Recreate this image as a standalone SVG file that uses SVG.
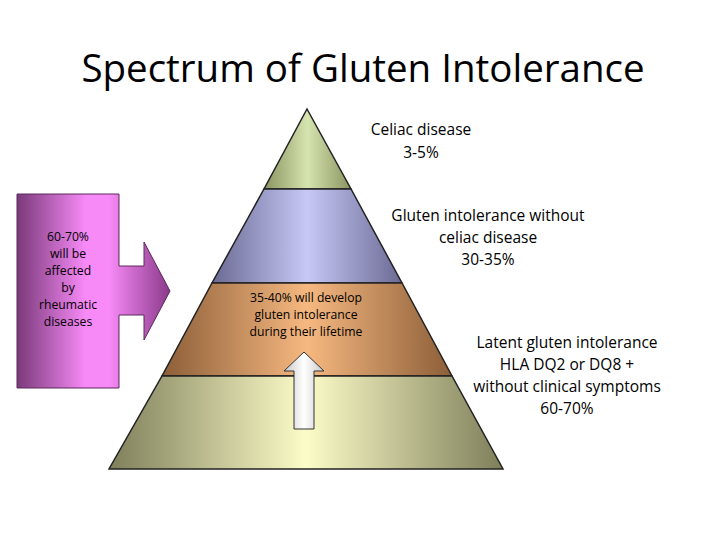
<svg xmlns="http://www.w3.org/2000/svg" width="728" height="546" viewBox="0 0 728 546">
<defs>
<linearGradient id="g1" x1="0" x2="1"><stop offset="0" stop-color="#8a9460"/><stop offset="0.5" stop-color="#d6e4b0"/><stop offset="1" stop-color="#8a9460"/></linearGradient>
<linearGradient id="g2" x1="0" x2="1"><stop offset="0" stop-color="#6a6a94"/><stop offset="0.5" stop-color="#c8c8f6"/><stop offset="1" stop-color="#6a6a94"/></linearGradient>
<linearGradient id="g3" x1="0" x2="1"><stop offset="0" stop-color="#8c5e38"/><stop offset="0.5" stop-color="#f6b880"/><stop offset="1" stop-color="#8c5e38"/></linearGradient>
<linearGradient id="g4" x1="0" x2="1"><stop offset="0" stop-color="#7e7e5a"/><stop offset="0.5" stop-color="#fcfcc8"/><stop offset="1" stop-color="#7e7e5a"/></linearGradient>
<linearGradient id="gp" x1="0" x2="1"><stop offset="0" stop-color="#7a3a7a"/><stop offset="0.45" stop-color="#f88af8"/><stop offset="0.6" stop-color="#f88af8"/><stop offset="1" stop-color="#8a3a8a"/></linearGradient>
<linearGradient id="gw" x1="0" x2="1"><stop offset="0" stop-color="#c8c8c8"/><stop offset="0.5" stop-color="#ffffff"/><stop offset="1" stop-color="#c8c8c8"/></linearGradient>
</defs>
<style>
.ly{stroke:#222;stroke-width:1.5}
.t{font-family:"Open Sans","Liberation Sans",sans-serif;fill:#000;text-anchor:middle}
.m{font-size:15.5px}.s{font-size:12.2px}
</style>
<rect width="728" height="546" fill="#fff"/>
<text x="363" y="82" class="t" style="font-size:38.5px">Spectrum of Gluten Intolerance</text>
<g id="pyramid">
<polygon id="layer1" class="ly" fill="url(#g1)" points="307,109 351,189 264,189"/>
<polygon id="layer2" class="ly" fill="url(#g2)" points="264,189 351,189 402,283 212,283"/>
<polygon id="layer3" class="ly" fill="url(#g3)" points="212,283 402,283 452,376 162,376"/>
<polygon id="layer4" class="ly" fill="url(#g4)" points="162,376 452,376 503,469 109,469"/>
</g>
<g id="inner-text" class="t s">
<text x="306" y="302">35-40% will develop</text>
<text x="306" y="319">gluten intolerance</text>
<text x="306" y="336">during their lifetime</text>
</g>
<g id="connectors">
<polygon id="up-arrow" fill="url(#gw)" stroke="#333" stroke-width="1" points="304,352 324,371 314,371 314,429 294,429 294,371 284,371"/>
<polygon id="pink-arrow" fill="url(#gp)" stroke="#5a2a5a" stroke-width="1" points="17,194 119,194 119,266 144,266 144,242 170,291 144,340 144,315 119,315 119,388 17,388"/>
</g>
<g id="pink-text" class="t s">
<text x="68" y="241">60-70%</text>
<text x="68" y="258">will be</text>
<text x="68" y="275">affected</text>
<text x="68" y="292">by</text>
<text x="68" y="309">rheumatic</text>
<text x="68" y="326">diseases</text>
</g>
<g id="label1" class="t m"><text x="421" y="135">Celiac disease</text><text x="421" y="158">3-5%</text></g>
<g id="label2" class="t m"><text x="488" y="221">Gluten intolerance without</text><text x="488" y="243">celiac disease</text><text x="488" y="265">30-35%</text></g>
<g id="label3" class="t m"><text x="567" y="348">Latent gluten intolerance</text><text x="567" y="370">HLA DQ2 or DQ8 +</text><text x="567" y="392">without clinical symptoms</text><text x="567" y="414">60-70%</text></g>
</svg>
